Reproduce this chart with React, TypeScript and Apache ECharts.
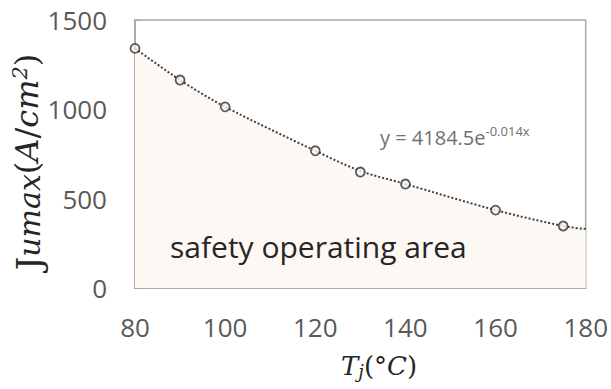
import React, { useEffect, useRef } from "react";
import * as echarts from "echarts";

// Measured points (Tj in °C, Jumax in A/cm²)
const temps = [80, 90, 100, 120, 130, 140, 160, 175];
const jumax = [1341, 1164, 1014, 768, 649, 582, 436, 347];
// Dotted trend line (extends to the right edge)
const trendTemps = [80, 90, 100, 120, 130, 140, 160, 175, 180];
const trendValues = [1341, 1164, 1014, 768, 655, 582, 436, 347, 330];
const xRange = [80, 180];
const yRange = [0, 1500];
const equationMain = "y = 4184.5e";
const equationSup = "-0.014x";
const areaLabel = "safety operating area";

const SERIF = "DejaVu Serif";
const INK = "#262626";

export default function App() {
  const ref = useRef<HTMLDivElement>(null);
  useEffect(() => {
    if (!ref.current) return;
    const chart = echarts.init(ref.current, undefined, { renderer: "svg" });
    const option = {
      animation: false,
      backgroundColor: "#ffffff",
      grid: {
        left: 135,
        top: 20,
        right: 24,
        bottom: 101,
        show: true,
        borderColor: "#a6a6a6",
        borderWidth: 1.5,
        backgroundColor: "transparent",
      },
      xAxis: {
        type: "value",
        min: xRange[0],
        max: xRange[1],
        interval: 20,
        axisLine: { show: true, lineStyle: { color: "#a6a6a6", width: 1.5 } },
        axisTick: { show: false },
        splitLine: { show: false },
        axisLabel: {
          color: "#595959",
          fontFamily: "Open Sans",
          fontSize: 26,
          margin: 26,
          formatter: (v: number) => String(v),
        },
      },
      yAxis: {
        type: "value",
        min: yRange[0],
        max: yRange[1],
        interval: 500,
        axisLine: { show: true, lineStyle: { color: "#a6a6a6", width: 1.5 } },
        axisTick: { show: true, inside: true, length: 5, lineStyle: { color: "#a6a6a6" } },
        splitLine: { show: false },
        axisLabel: {
          color: "#595959",
          fontFamily: "Open Sans",
          fontSize: 26,
          margin: 28,
          formatter: (v: number) => String(v),
        },
      },
      graphic: [
        {
          type: "text",
          x: 27,
          y: 162,
          rotation: Math.PI / 2,
          z: 100,
          style: {
            text: "{J|J}{s|umax}{p|(}{i|A}{p|/}{i|cm}{sup|2}{p|)}",
            align: "center",
            verticalAlign: "middle",
            rich: {
              J: { fontFamily: SERIF, fontSize: 34, fill: INK, padding: [4, 0, 0, 0] },
              s: { fontFamily: SERIF, fontStyle: "italic", fontSize: 30, fill: INK, padding: [4, 0, 0, 0] },
              p: { fontFamily: SERIF, fontSize: 32, fill: INK },
              i: { fontFamily: SERIF, fontStyle: "italic", fontSize: 32, fill: INK },
              sup: { fontFamily: SERIF, fontStyle: "italic", fontSize: 21, fill: INK, padding: [0, 0, 15, 0] },
            },
          },
        },
        {
          type: "text",
          x: 379,
          y: 366,
          z: 100,
          style: {
            text: "{T|T}{j|j}{p|(°}{T|C}{p|)}",
            align: "center",
            verticalAlign: "middle",
            rich: {
              T: { fontFamily: SERIF, fontStyle: "italic", fontSize: 26, fill: INK },
              j: { fontFamily: SERIF, fontStyle: "italic", fontSize: 18, fill: INK, padding: [10, 0, 0, 0] },
              p: { fontFamily: SERIF, fontSize: 26, fill: INK },
            },
          },
        },
        {
          type: "text",
          x: 380,
          y: 137,
          z: 100,
          style: {
            text: "{m|" + equationMain + "}{s|" + equationSup + "}",
            verticalAlign: "middle",
            rich: {
              m: { fontFamily: "Open Sans", fontSize: 20, fill: "#707070" },
              s: { fontFamily: "Open Sans", fontSize: 13, fill: "#707070", padding: [0, 0, 12, 0] },
            },
          },
        },
        {
          type: "text",
          x: 170,
          y: 246,
          z: 100,
          style: {
            text: areaLabel,
            verticalAlign: "middle",
            fontFamily: "Open Sans",
            fontSize: 30,
            fill: INK,
          },
        },
      ],
      series: [
        {
          type: "line",
          data: trendTemps.map((t, i) => [t, trendValues[i]]),
          smooth: 0.3,
          showSymbol: false,
          symbol: "none",
          lineStyle: { color: "#404040", width: 2, type: [2, 2] },
          areaStyle: { color: "#fdf8f4", opacity: 1 },
          z: 2,
        },
        {
          type: "scatter",
          data: temps.map((t, i) => [t, jumax[i]]),
          symbol: "circle",
          symbolSize: 9,
          itemStyle: { color: "#f7f4f1", borderColor: "#333333", borderWidth: 1.8 },
          z: 3,
        },
      ],
    };
    chart.setOption(option as any);
    return () => chart.dispose();
  }, []);
  return (
    <div
      ref={ref}
      style={{ position: "fixed", left: 0, top: 0, width: 611, height: 389 }}
    />
  );
}
